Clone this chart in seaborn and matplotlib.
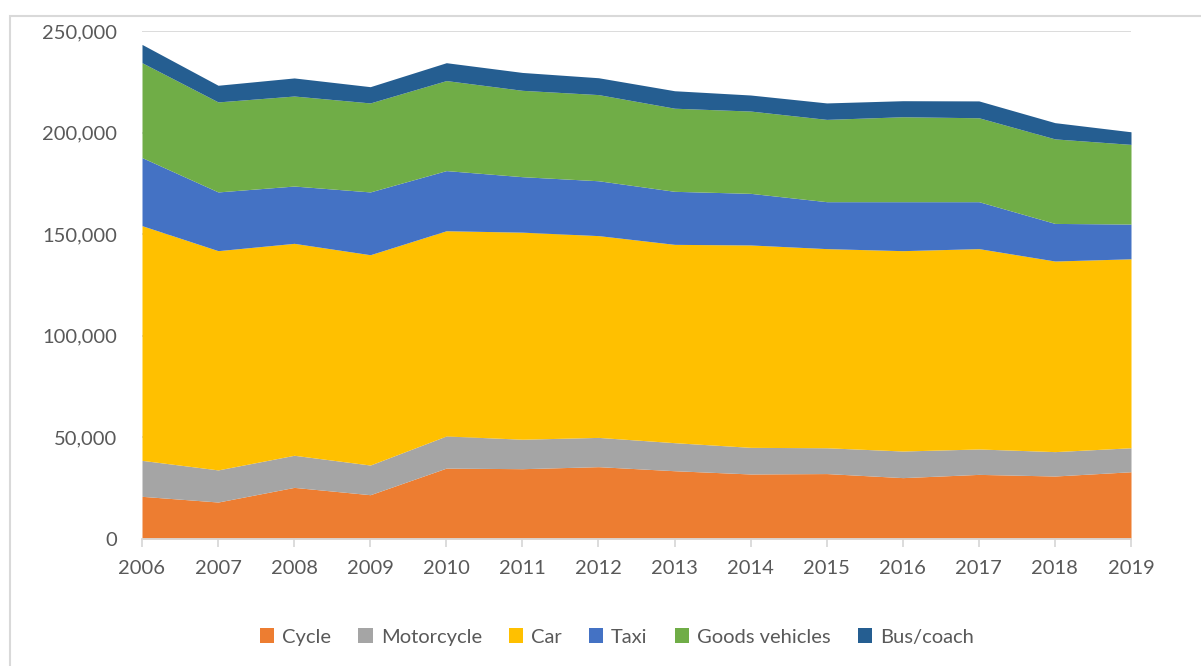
import matplotlib
matplotlib.use("Agg")
import matplotlib.pyplot as plt
import seaborn as sns
import pandas as pd
from matplotlib.patches import Patch, Rectangle
from matplotlib.ticker import FuncFormatter

years = list(range(2006, 2020))
cycle = [21000, 18200, 25400, 21800, 34900, 34600, 35600, 33600, 32000, 32200, 30200, 31800, 31000, 33100]
motorcycle = [17700, 15800, 15800, 14600, 15800, 14500, 14400, 13800, 13100, 12700, 13100, 12500, 12000, 11800]
car = [115500, 107900, 104300, 103500, 101000, 101900, 99300, 97600, 99600, 98000, 98600, 98600, 93800, 93000]
taxi = [33500, 28900, 28200, 30900, 29600, 27300, 27000, 26100, 25400, 23100, 24100, 23100, 18500, 17100]
goods = [46700, 44300, 44300, 43800, 44300, 42500, 42400, 40900, 40500, 40500, 41800, 41300, 41600, 39200]
bus = [9000, 8200, 8900, 8000, 8800, 8800, 8300, 8600, 7900, 8100, 7900, 8300, 8000, 6200]

series_names = ["Cycle", "Motorcycle", "Car", "Taxi", "Goods vehicles", "Bus/coach"]
colors = ["#ed7d31", "#a5a5a5", "#ffc000", "#4472c4", "#70ad47", "#255e91"]
y_ticks = [0, 50000, 100000, 150000, 200000, 250000]

df = pd.DataFrame({"Year": years, "Cycle": cycle, "Motorcycle": motorcycle, "Car": car,
                   "Taxi": taxi, "Goods vehicles": goods, "Bus/coach": bus})

sns.set_theme(style="white")
plt.rcParams["font.family"] = ["Lato", "DejaVu Sans"]
palette = sns.color_palette(colors)

fig = plt.figure(figsize=(12.01, 6.66), dpi=100)
fig.patch.set_facecolor("white")
ax = fig.add_axes([142/1201, 1-539/666, (1131-142)/1201, (539-31)/666])

ax.stackplot(df["Year"], [df[n] for n in series_names], colors=palette,
             labels=series_names, linewidth=0, zorder=2)

ax.set_xlim(2006, 2019)
ax.set_ylim(0, 250000)
ax.set_yticks(y_ticks)
ax.set_xticks(years)
ax.yaxis.set_major_formatter(FuncFormatter(lambda v, p: "0" if v == 0 else f"{int(v):,}"))
ax.grid(axis="y", color="#d9d9d9", linewidth=1.3, zorder=0)
ax.set_axisbelow(True)
sns.despine(ax=ax, left=True, top=True, right=True)
ax.spines["bottom"].set_color("#d9d9d9")
ax.spines["bottom"].set_linewidth(1.3)
ax.spines["bottom"].set_zorder(3)
ax.tick_params(axis="x", which="major", bottom=True, length=6, width=1.3, color="#d9d9d9",
               labelsize=14.5, labelcolor="#595959", pad=9)
ax.tick_params(axis="y", which="major", left=False, labelsize=14.5, labelcolor="#595959", pad=12)

handles = [Patch(facecolor=c, edgecolor="none") for c in colors]
fig.legend(handles, series_names, loc="center", bbox_to_anchor=(617/1201, 1-637/666),
           ncol=6, frameon=False, fontsize=14.5, labelcolor="#595959",
           handlelength=0.7, handleheight=0.7, handletextpad=0.4, columnspacing=1.35)

fig.patches.append(Rectangle((10/1201, -0.1), 1.2, 1.1 - 16/666, transform=fig.transFigure,
                             fill=False, edgecolor="#d9d9d9", linewidth=1.5, zorder=0))

fig.savefig("out.png", dpi=100, facecolor="white")
